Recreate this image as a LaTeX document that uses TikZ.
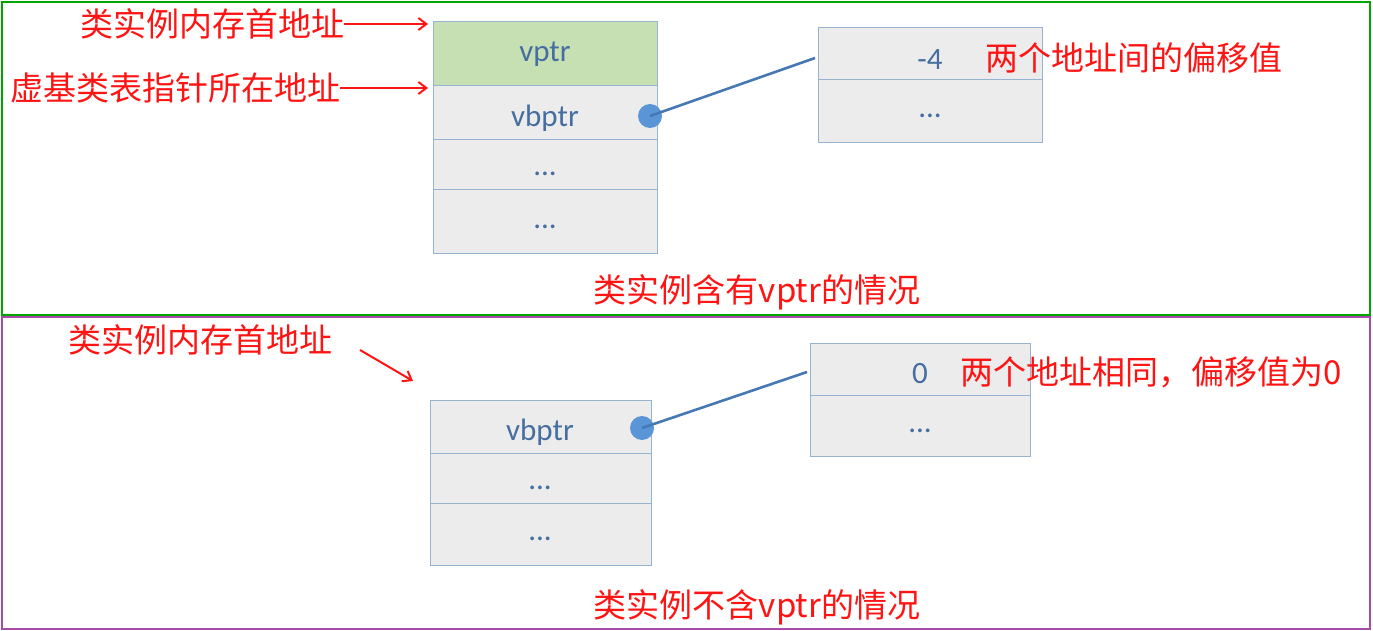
\documentclass[tikz,border=0pt]{standalone}
\usepackage{fontspec}
\setmainfont{Carlito}
\newfontfamily\cjk{Noto Sans CJK SC}
\usetikzlibrary{arrows.meta}
\begin{document}
\begin{tikzpicture}[x=1pt,y=-1pt,
  cell/.style={draw=bord,fill=cellg,line width=1pt},
  ctext/.style={text=txtb,font=\fontsize{31}{31}\selectfont},
  red/.style={text=myred,font=\cjk\fontsize{33}{33}\selectfont,inner sep=0pt},
  rarr/.style={draw=myred,line width=2pt,-{Straight Barb[length=8pt,width=12pt]}},
  link/.style={draw=linkc,line width=2.6pt}]
\definecolor{myred}{RGB}{255,20,20}
\definecolor{bord}{RGB}{150,180,210}
\definecolor{cellg}{RGB}{236,236,236}
\definecolor{txtb}{RGB}{70,110,160}
\definecolor{greenf}{RGB}{198,224,180}
\definecolor{linkc}{RGB}{70,120,180}
\definecolor{dotc}{RGB}{90,150,215}
\useasboundingbox (0,0) rectangle (1373,631);
\draw[draw=green!65!black,line width=1.5pt] (2,2) rectangle (1370,315);
\draw[draw=violet!70,line width=1.5pt] (2,317) rectangle (1370,629);
% top left column
\draw[cell,fill=greenf] (433,22) rectangle (657,86);
\draw[cell] (433,86) rectangle (657,140);
\draw[cell] (433,140) rectangle (657,190);
\draw[cell] (433,190) rectangle (657,253);
\node[ctext] (t1) at (545,54) {vptr};
\node[ctext] (t2) at (545,118) {vbptr};
\node[ctext] (t3) at (545,174) {...};
\node[ctext] (t4) at (545,227) {...};
% top right
\draw[cell] (818,28) rectangle (1042,80);
\draw[cell] (818,80) rectangle (1042,143);
\node[ctext] (r1) at (930,60) {-4};
\node[ctext] (r2) at (930,116) {...};
\coordinate (tend) at (815,58);
\node[circle,fill=dotc,minimum size=24pt,inner sep=0pt] (d1) at (650,116) {};
\draw[link] (d1.center) -- (tend);
\node[red,anchor=west] (l1) at (80,24) {类实例内存首地址};
\coordinate (l1e) at (428,24);
\draw[rarr] (l1.east) -- (l1e);
\node[red,anchor=west] (l2) at (10,88) {虚基类表指针所在地址};
\coordinate (l2e) at (428,88);
\draw[rarr] (l2.east) -- (l2e);
\node[red,anchor=west] (l3) at (985,58) {两个地址间的偏移值};
\node[red] (c1) at (757,292) {类实例含有vptr的情况};
% bottom left
\draw[cell] (430,400) rectangle (651,453);
\draw[cell] (430,453) rectangle (651,503);
\draw[cell] (430,503) rectangle (651,565);
\node[ctext] (b2) at (540,432) {vbptr};
\node[ctext] (b3) at (540,488) {...};
\node[ctext] (b4) at (540,539) {...};
\draw[cell] (810,343) rectangle (1030,395);
\draw[cell] (810,395) rectangle (1030,456);
\node[ctext] (s1) at (920,374) {0};
\node[ctext] (s2) at (920,431) {...};
\coordinate (bend) at (807,372);
\node[circle,fill=dotc,minimum size=24pt,inner sep=0pt] (d2) at (642,428) {};
\draw[link] (d2.center) -- (bend);
\node[red,anchor=west] (m1) at (68,340) {类实例内存首地址};
\coordinate (ma) at (360,350);
\coordinate (mb) at (413,381);
\draw[rarr] (ma) -- (mb);
\node[red,anchor=west] (m3) at (960,372) {两个地址相同，偏移值为0};
\node[red] (c2) at (757,607) {类实例不含vptr的情况};
\end{tikzpicture}
\end{document}
